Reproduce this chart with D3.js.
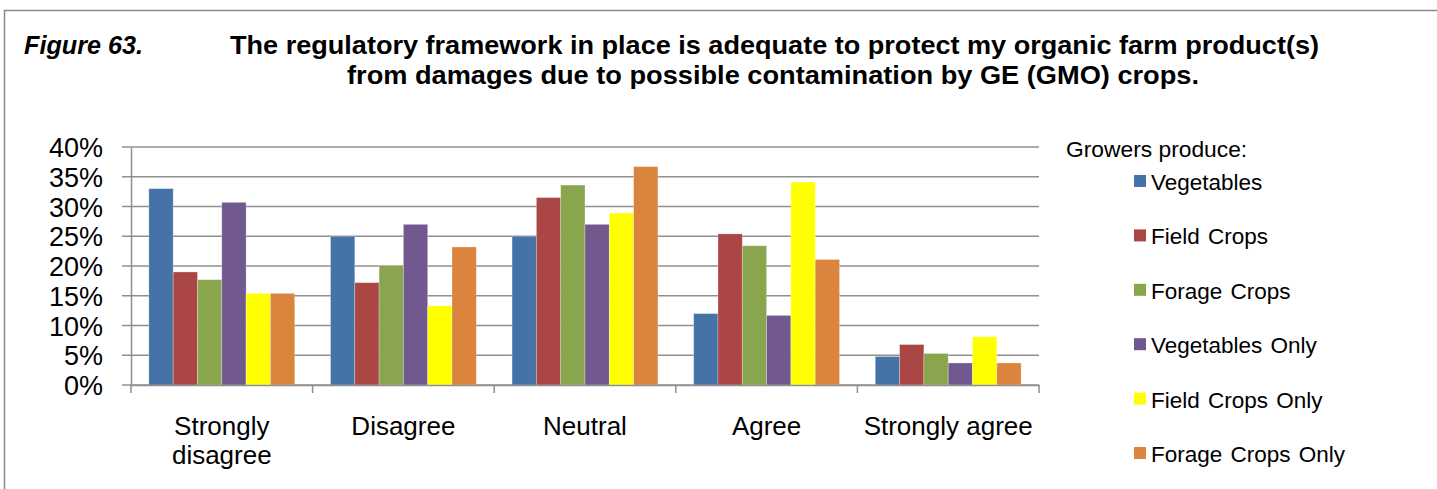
<!DOCTYPE html>
<html>
<head>
<meta charset="utf-8">
<script src="https://cdn.jsdelivr.net/npm/d3@7"></script>
<style>
  html, body { margin: 0; padding: 0; background: #fff; }
  svg { display: block; font-family: "Liberation Sans", Arial, sans-serif; }
</style>
</head>
<body>
<svg id="chart" width="1437" height="489"></svg>
<script>
const categories = ["Strongly disagree", "Disagree", "Neutral", "Agree", "Strongly agree"];
const seriesNames = ["Vegetables", "Field Crops", "Forage Crops", "Vegetables Only", "Field Crops Only", "Forage Crops Only"];
const vegetables      = [0.330, 0.250, 0.250, 0.120, 0.048];
const fieldCrops      = [0.190, 0.172, 0.315, 0.254, 0.068];
const forageCrops     = [0.177, 0.201, 0.336, 0.234, 0.053];
const vegetablesOnly  = [0.307, 0.270, 0.270, 0.117, 0.037];
const fieldCropsOnly  = [0.154, 0.133, 0.289, 0.341, 0.081];
const forageCropsOnly = [0.154, 0.232, 0.367, 0.211, 0.037];
const seriesColors = ["#4572A7", "#AA4643", "#89A54E", "#71588F", "#FFFF00", "#DB843D"];
const yTicks = [0, 0.05, 0.10, 0.15, 0.20, 0.25, 0.30, 0.35, 0.40];
const titleLabel = "Figure 63.";
const titleLines = ["The regulatory framework in place is adequate to protect my organic farm product(s)",
                    "from damages due to possible contamination by GE (GMO) crops."];
const legendTitle = "Growers produce:";

const seriesValues = [vegetables, fieldCrops, forageCrops, vegetablesOnly, fieldCropsOnly, forageCropsOnly];

const svg = d3.select("#chart");
const gridColor = "#8f8f8f";

// outer frame
svg.append("rect")
  .attr("x", 4.5).attr("y", 10.5)
  .attr("width", 1500).attr("height", 600)
  .attr("fill", "none").attr("stroke", "#8a8a8a").attr("stroke-width", 1.5);

// titles
svg.append("text")
  .attr("x", 24).attr("y", 53.5)
  .attr("font-size", 25).attr("font-weight", "bold").attr("font-style", "italic")
  .attr("textLength", 119).attr("lengthAdjust", "spacingAndGlyphs")
  .text(titleLabel);
const titleX = [230, 347], titleY = [53.5, 84], titleW = [1089, 852];
titleLines.forEach((t, i) => {
  svg.append("text")
    .attr("x", titleX[i]).attr("y", titleY[i])
    .attr("font-family", '"Liberation Sans Narrow", "Liberation Sans", Arial, sans-serif')
    .attr("font-size", 25).attr("font-weight", "bold")
    .attr("textLength", titleW[i]).attr("lengthAdjust", "spacingAndGlyphs")
    .text(t);
});

// scales
const plotLeft = 131, plotRight = 1039, plotTop = 147, plotBottom = 385;
const y = d3.scaleLinear().domain([0, 0.4]).range([plotBottom, plotTop]);
const x0 = d3.scaleBand().domain(categories).range([plotLeft, plotRight]).paddingInner(0).paddingOuter(0);
const x1 = d3.scaleBand().domain(seriesNames).range([0, x0.bandwidth()]).paddingInner(0).paddingOuter(0.735);
const color = d3.scaleOrdinal().domain(seriesNames).range(seriesColors);

// gridlines
svg.append("g").selectAll("line").data(yTicks).join("line")
  .attr("x1", plotLeft - 9).attr("x2", plotRight)
  .attr("y1", d => y(d)).attr("y2", d => y(d))
  .attr("stroke", gridColor).attr("stroke-width", 1.5);

// y axis
const yAxis = svg.append("g").attr("transform", `translate(${plotLeft},0)`)
  .call(d3.axisLeft(y).tickValues(yTicks).tickFormat(d3.format(".0%")).tickSize(0).tickPadding(28));
yAxis.select(".domain").attr("stroke", gridColor).attr("stroke-width", 1.5);
yAxis.selectAll("text").attr("font-size", 27).attr("fill", "#000")
  .attr("font-family", '"Liberation Sans", Arial, sans-serif').attr("dy", "0.36em");

// bars
const groups = svg.append("g").selectAll("g").data(categories).join("g")
  .attr("transform", d => `translate(${x0(d)},0)`);
groups.selectAll("rect")
  .data((c, ci) => seriesNames.map((s, si) => ({ s, v: seriesValues[si][ci] })))
  .join("rect")
  .attr("x", d => x1(d.s))
  .attr("width", x1.bandwidth())
  .attr("y", d => y(d.v))
  .attr("height", d => y(0) - y(d.v))
  .attr("fill", d => color(d.s))
  .attr("stroke", "rgba(255,255,255,0.35)").attr("stroke-width", 0.8);

// x axis
const xAxis = svg.append("g").attr("transform", `translate(0,${plotBottom})`)
  .call(d3.axisBottom(x0).tickSize(0).tickPadding(0));
xAxis.select(".domain").attr("stroke", gridColor).attr("stroke-width", 1.5);
xAxis.selectAll(".tick text").remove();
const boundaries = categories.map(c => x0(c)).concat([x0(categories[categories.length - 1]) + x0.bandwidth()]);
xAxis.selectAll("line.bound").data(boundaries).join("line").attr("class", "bound")
  .attr("x1", d => d).attr("x2", d => d).attr("y1", 0).attr("y2", 8)
  .attr("stroke", gridColor).attr("stroke-width", 1.5);

// x labels with wrapping
const xl = svg.append("g");
categories.forEach(c => {
  const cx = x0(c) + x0.bandwidth() / 2;
  const t = xl.append("text").attr("x", cx).attr("y", 435).attr("text-anchor", "middle")
    .attr("font-size", 26).attr("fill", "#000");
  t.text(c);
  if (t.node().getComputedTextLength() > x0.bandwidth()) {
    const words = c.split(" ");
    t.text(null);
    words.forEach((w, i) => {
      t.append("tspan").attr("x", cx).attr("dy", i === 0 ? 0 : 29).text(w);
    });
  }
});

// legend
svg.append("text").attr("x", 1066).attr("y", 157)
  .attr("font-size", 22.8).attr("fill", "#000").text(legendTitle);
const legend = svg.append("g").selectAll("g").data(seriesNames).join("g")
  .attr("transform", (d, i) => `translate(1134,${190 + i * 54.4})`);
legend.append("rect").attr("x", 0).attr("y", -15).attr("width", 12).attr("height", 12)
  .attr("fill", d => color(d));
legend.append("text").attr("x", 17).attr("y", 0)
  .attr("font-size", 22.5).attr("fill", "#000").attr("word-spacing", 2).text(d => d);
</script>
</body>
</html>
